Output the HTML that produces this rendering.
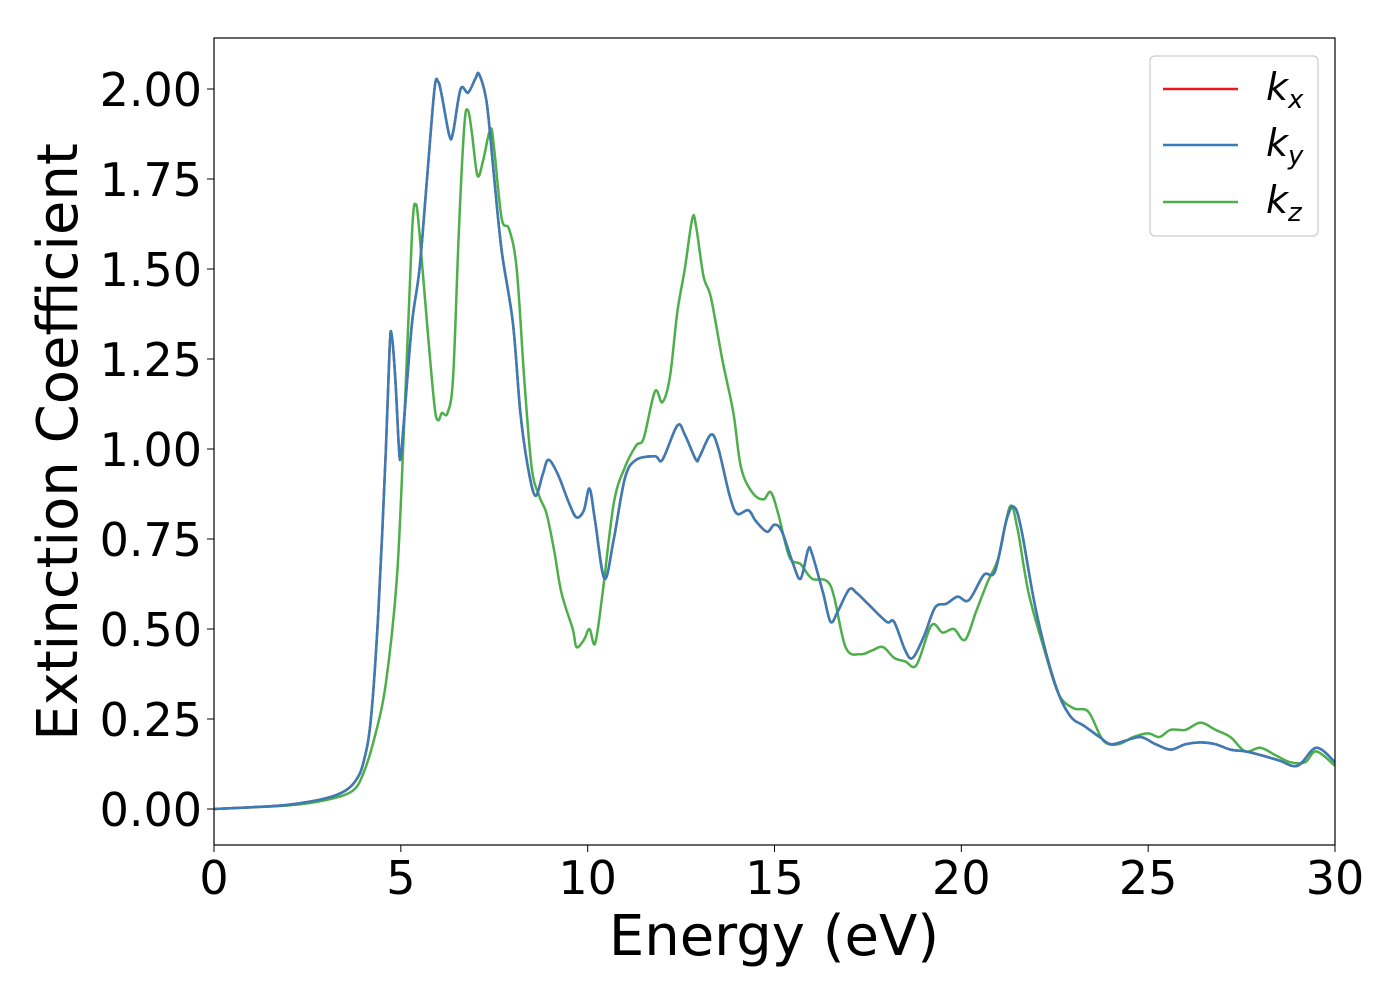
<!DOCTYPE html>
<html><head><meta charset="utf-8"><style>
html,body{margin:0;padding:0;background:#fff;}
svg text{font-family:"DejaVu Sans","Liberation Sans",sans-serif;}
</style></head><body>
<svg id="chart" width="1400" height="1000" xmlns="http://www.w3.org/2000/svg">
<g id="grid"></g>
<g id="series"></g>
<rect x="214" y="38" width="1121" height="807" fill="none" stroke="#000" stroke-width="1.2"/>
<g id="axes"></g>
<text x="774" y="955" font-size="56" text-anchor="middle">Energy (eV)</text>
<text transform="translate(77,442) rotate(-90)" font-size="56" text-anchor="middle">Extinction Coefficient</text>
<g>
<rect x="1150" y="56" width="168" height="180" rx="5" fill="#fff" stroke="#ccc" stroke-width="1.2"/>
<line x1="1163" y1="89" x2="1238" y2="89" stroke="#e41a1c" stroke-width="2.5"/>
<text x="1266" y="100" font-size="38" font-style="italic">k<tspan font-size="26" dy="8">x</tspan></text>
<line x1="1163" y1="145" x2="1238" y2="145" stroke="#377eb8" stroke-width="2.5"/>
<text x="1266" y="156" font-size="38" font-style="italic">k<tspan font-size="26" dy="8">y</tspan></text>
<line x1="1163" y1="202" x2="1238" y2="202" stroke="#4daf4a" stroke-width="2.5"/>
<text x="1266" y="213" font-size="38" font-style="italic">k<tspan font-size="26" dy="8">z</tspan></text>
</g>
</svg>
<script>
const xTicks=[0,5,10,15,20,25,30];
const yTicks=[0,0.25,0.5,0.75,1.0,1.25,1.5,1.75,2.0];
const energyXY=[0,1,2,3,3.5,3.8,4.0,4.2,4.4,4.6,4.7,4.75,4.85,4.95,5.0,5.1,5.3,5.5,5.7,5.9,6.0,6.1,6.3,6.4,6.6,6.8,7.0,7.1,7.3,7.5,7.7,8.0,8.2,8.4,8.6,8.8,8.95,9.2,9.5,9.7,9.9,10.05,10.2,10.45,10.7,11.0,11.3,11.8,12.0,12.4,12.6,12.9,13.0,13.3,13.5,13.8,14.0,14.3,14.5,14.8,15.0,15.2,15.5,15.7,15.9,16.0,16.3,16.5,16.7,17.0,17.2,17.5,18.0,18.2,18.5,18.7,19.0,19.3,19.6,19.9,20.2,20.6,20.9,21.2,21.4,21.6,22.0,22.5,22.9,23.3,23.7,24.0,24.4,24.8,25.2,25.6,26.0,26.4,26.8,27.2,27.6,28.0,28.5,29.0,29.5,30];
const kxy=[0,0.005,0.012,0.03,0.05,0.08,0.13,0.25,0.55,1.0,1.28,1.32,1.2,1.0,0.98,1.1,1.35,1.5,1.75,2.0,2.02,1.98,1.87,1.88,2.0,1.99,2.03,2.04,1.96,1.75,1.55,1.35,1.1,0.95,0.87,0.93,0.97,0.93,0.85,0.81,0.83,0.89,0.8,0.64,0.75,0.92,0.97,0.98,0.97,1.065,1.04,0.97,0.98,1.04,1.0,0.87,0.82,0.83,0.8,0.77,0.79,0.77,0.68,0.64,0.72,0.71,0.6,0.52,0.55,0.61,0.6,0.57,0.52,0.52,0.44,0.42,0.48,0.56,0.57,0.59,0.58,0.65,0.66,0.8,0.84,0.78,0.55,0.35,0.26,0.23,0.2,0.18,0.19,0.2,0.18,0.165,0.18,0.185,0.18,0.165,0.16,0.15,0.135,0.12,0.17,0.13];
const energyZ=[0,2,3,3.7,4.0,4.3,4.6,4.9,5.1,5.3,5.4,5.5,5.7,5.9,6.0,6.1,6.25,6.4,6.55,6.7,6.8,6.9,7.05,7.2,7.4,7.5,7.7,7.9,8.1,8.3,8.5,8.7,8.9,9.1,9.3,9.6,9.7,9.9,10.05,10.2,10.4,10.7,11.0,11.3,11.5,11.8,12.0,12.2,12.4,12.6,12.8,12.9,13.1,13.3,13.6,13.9,14.1,14.4,14.7,14.9,15.1,15.4,15.7,16.0,16.5,16.9,17.3,17.6,17.9,18.2,18.5,18.8,19.2,19.5,19.8,20.1,20.4,20.7,21.0,21.3,21.5,21.8,22.2,22.6,23.0,23.4,23.8,24.2,24.6,25.0,25.3,25.6,26.0,26.4,26.8,27.2,27.6,28.0,28.4,28.8,29.2,29.5,30];
const kz=[0,0.01,0.025,0.05,0.1,0.2,0.35,0.65,1.1,1.6,1.68,1.6,1.35,1.12,1.08,1.1,1.1,1.2,1.6,1.9,1.94,1.88,1.76,1.8,1.89,1.83,1.64,1.61,1.5,1.2,0.95,0.87,0.82,0.72,0.6,0.5,0.45,0.47,0.5,0.46,0.6,0.85,0.95,1.01,1.03,1.16,1.13,1.2,1.38,1.5,1.64,1.62,1.48,1.42,1.25,1.1,0.95,0.88,0.86,0.88,0.82,0.7,0.68,0.64,0.62,0.45,0.43,0.44,0.45,0.42,0.41,0.40,0.51,0.49,0.5,0.47,0.55,0.63,0.7,0.84,0.78,0.6,0.45,0.32,0.28,0.27,0.19,0.18,0.2,0.21,0.2,0.22,0.22,0.24,0.22,0.2,0.16,0.17,0.15,0.13,0.13,0.16,0.12];

const X0=214,X1=1335,Y0=809,Y2=89;
const xs=v=>X0+(v-0)/(30-0)*(X1-X0);
const ys=v=>Y0-(v/2)*(Y0-Y2);
const NS="http://www.w3.org/2000/svg";
function pathD(ex,ky){
  const p=ex.map((e,i)=>[xs(e),ys(ky[i])]);
  let d="M"+p[0][0].toFixed(1)+","+p[0][1].toFixed(1);
  for(let i=0;i<p.length-1;i++){
    const a=p[Math.max(0,i-1)],b=p[i],c=p[i+1],e=p[Math.min(p.length-1,i+2)];
    const c1=[b[0]+(c[0]-a[0])/6,b[1]+(c[1]-a[1])/6];
    const c2=[c[0]-(e[0]-b[0])/6,c[1]-(e[1]-b[1])/6];
    d+=" C"+c1[0].toFixed(1)+","+c1[1].toFixed(1)+" "+c2[0].toFixed(1)+","+c2[1].toFixed(1)+" "+c[0].toFixed(1)+","+c[1].toFixed(1);
  }
  return d;
}
const series=document.getElementById('series');
function addLine(name,ex,ky,color){
  const el=document.createElementNS(NS,'path');
  
  
  el.setAttribute('d',pathD(ex,ky));
  el.setAttribute('fill','none');el.setAttribute('stroke',color);el.setAttribute('stroke-width','2.5');
  series.appendChild(el);
}
addLine('kz-line',energyZ,kz,'#4daf4a');
addLine('kx-line',energyXY,kxy,'#e41a1c');
addLine('ky-line',energyXY,kxy,'#377eb8');

const axes=document.getElementById('axes');
xTicks.forEach(t=>{
  const l=document.createElementNS(NS,'line');
  
  
  l.setAttribute('x1',xs(t));l.setAttribute('x2',xs(t));l.setAttribute('y1',845);l.setAttribute('y2',852);l.setAttribute('stroke','#000');
  axes.appendChild(l);
  const tx=document.createElementNS(NS,'text');
  
  
  tx.setAttribute('x',xs(t));tx.setAttribute('y',894);tx.setAttribute('font-size','46');tx.setAttribute('text-anchor','middle');
  tx.textContent=t;axes.appendChild(tx);
});
yTicks.forEach(t=>{
  const l=document.createElementNS(NS,'line');
  
  
  l.setAttribute('x1',207);l.setAttribute('x2',214);l.setAttribute('y1',ys(t));l.setAttribute('y2',ys(t));l.setAttribute('stroke','#000');
  axes.appendChild(l);
  const tx=document.createElementNS(NS,'text');
  
  
  tx.setAttribute('x',202);tx.setAttribute('y',ys(t)+17);tx.setAttribute('font-size','46');tx.setAttribute('text-anchor','end');
  tx.textContent=t.toFixed(2);axes.appendChild(tx);
});
</script>
</body></html>
